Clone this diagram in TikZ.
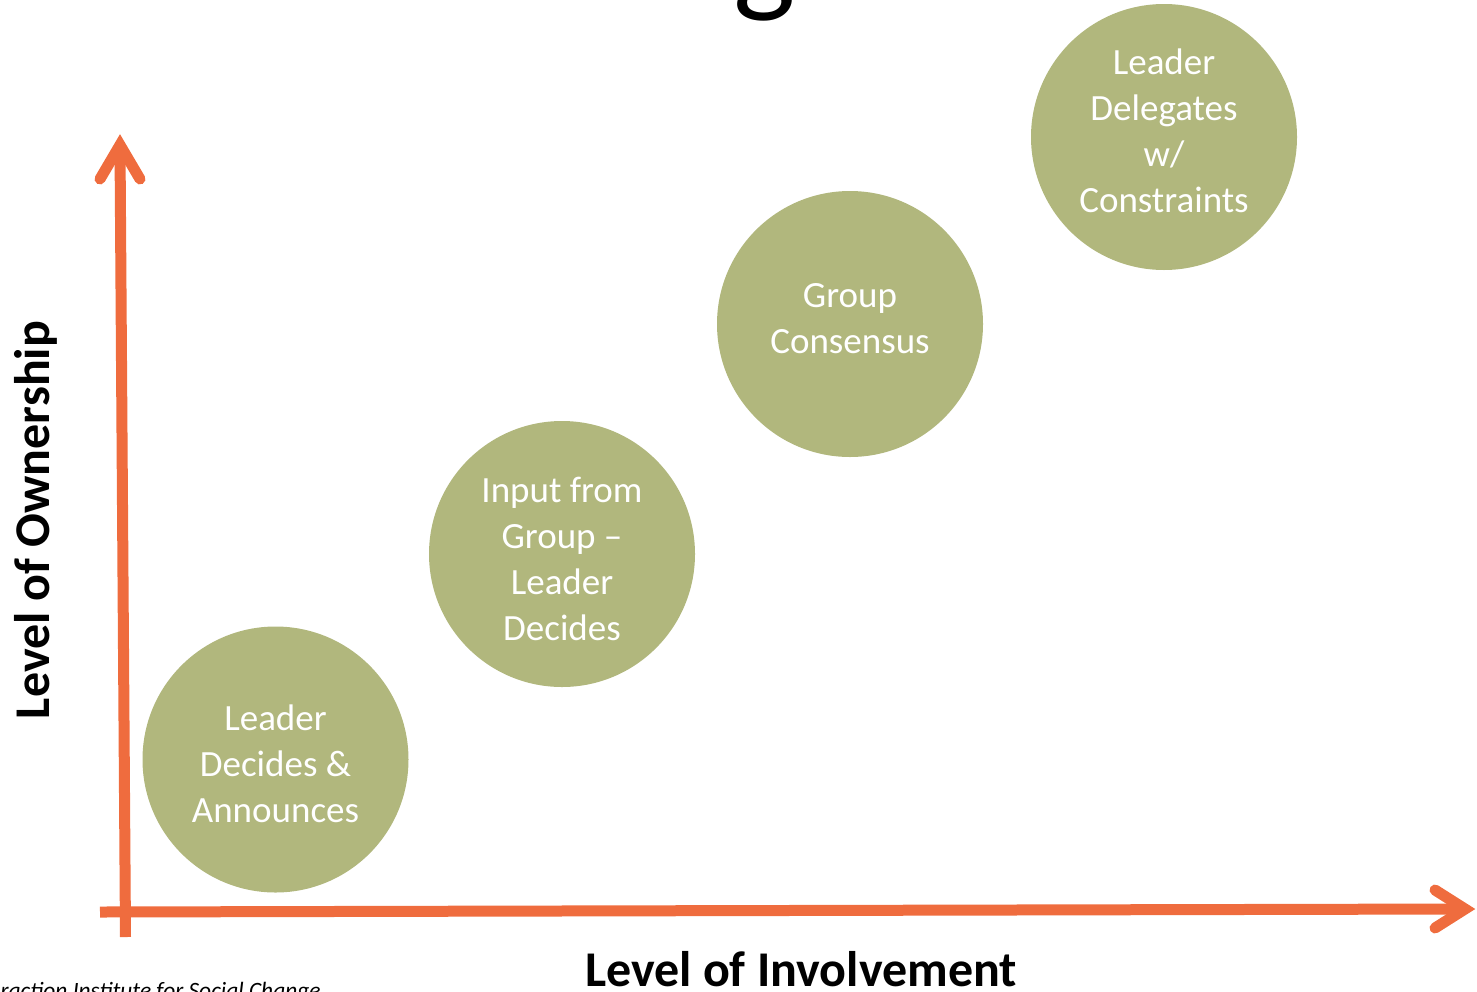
\documentclass[tikz,border=0pt]{standalone}
\usepackage{fontspec}
\setmainfont{Carlito}
\usetikzlibrary{calc}
\definecolor{axisorange}{RGB}{239,108,62}
\definecolor{bubble}{RGB}{177,183,125}
\begin{document}
\begin{tikzpicture}[x=0.5pt,y=-0.5pt,
  axisline/.style={draw=axisorange,line width=5.5pt},
  axishead/.style={draw=axisorange,line width=5.5pt,line cap=round,line join=miter},
  bubblenode/.style={circle,fill=bubble,minimum size=133pt,inner sep=0pt},
  bubbletext/.style={text=white,align=center,font=\fontsize{18.5pt}{23pt}\selectfont,inner sep=0pt},
  axislabel/.style={font=\fontsize{25pt}{30pt}\selectfont\bfseries,inner sep=0pt},
]
\useasboundingbox (0,0) rectangle (1477,991);
\clip (0,0) rectangle (1477,991);
\node[font=\fontsize{66pt}{70pt}\selectfont, anchor=base west, inner sep=0pt] (title) at (-86,-1.5) {Decision Making Process};

\node[bubblenode] (b1) at (275.5,759.5) {};
\node[bubblenode] (b2) at (562,554) {};
\node[bubblenode] (b3) at (850,324) {};
\node[bubblenode] (b4) at (1164,137) {};
\node[bubbletext] (t1) at ($(b1.center)+(0,4.5)$) {Leader\\Decides \&\\Announces};
\node[bubbletext] (t2) at ($(b2.center)+(0,5)$) {Input from\\Group –\\Leader\\Decides};
\node[bubbletext] (t3) at ($(b3.center)+(0,-5.5)$) {Group\\Consensus};
\node[bubbletext] (t4) at ($(b4.center)+(0,-6)$) {Leader\\Delegates\\w/\\Constraints};

\coordinate (ybot) at (125.5,937);
\coordinate (ytip) at (120,145);
\coordinate (xleft) at (100,912);
\coordinate (xtip) at (1465,909);
\draw[axisline] (ybot) -- (ytip);
\draw[axishead] ($(ytip)+(-20,34)$) -- (ytip) -- ($(ytip)+(20,34)$);
\draw[axisline] (xleft) -- (xtip);
\draw[axishead] ($(xtip)+(-30,-19)$) -- (xtip) -- ($(xtip)+(-30,19)$);

\node[axislabel, anchor=base] (xlab) at (801,986) {Level of Involvement};
\node[axislabel, rotate=90, anchor=base] (ylab) at (49,520) {Level of Ownership};
\node[font=\fontsize{11.7pt}{14pt}\selectfont\itshape, anchor=base east, inner sep=0pt] (credit) at (321,998) {Interaction Institute for Social Change};
\end{tikzpicture}
\end{document}
